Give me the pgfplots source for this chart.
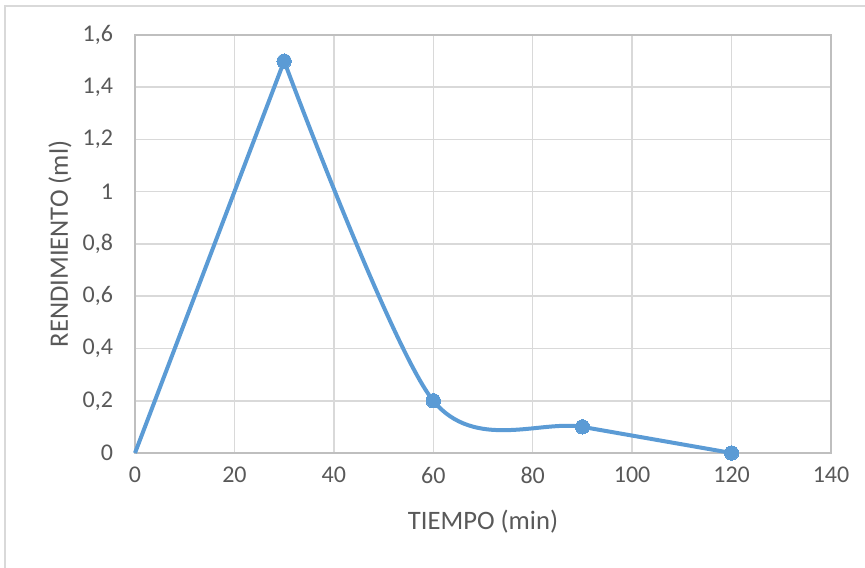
\documentclass[border=0pt]{standalone}
\usepackage{fontspec}
\setmainfont{Carlito}
\usepackage{pgfplots}
\pgfplotsset{compat=1.18}
\definecolor{txtgray}{HTML}{595959}
\definecolor{gridgray}{HTML}{D9D9D9}
\definecolor{axisgray}{HTML}{BFBFBF}
\definecolor{serblue}{HTML}{5B9BD5}
\begin{document}
\begin{tikzpicture}
\path[use as bounding box] (-67.5pt,-57pt) rectangle (365pt,226.5pt);
\draw[color=gridgray, line width=0.6pt] (-65pt,-60pt) -- (-65pt,223.5pt) -- (370pt,223.5pt);
\begin{axis}[
  at={(0,0)}, anchor=south west,
  scale only axis,
  width=348pt, height=209pt,
  xmin=0, xmax=140, ymin=0, ymax=1.6,
  xtick={0,20,...,140},
  ytick={0,0.2,0.4,0.6,0.8,1,1.2,1.4,1.6},
  yticklabels={0,{0,2},{0,4},{0,6},{0,8},1,{1,2},{1,4},{1,6}},
  xmajorgrids, ymajorgrids,
  grid style={color=gridgray, line width=0.75pt},
  axis line style={color=axisgray, line width=0.75pt},
  major tick length=0pt,
  /pgf/number format/assume math mode=true,
  tick label style={font=\fontsize{12}{14}\selectfont, text=txtgray},
  xticklabel style={yshift=-3.5pt},
  yticklabel style={xshift=-7.5pt},
  xlabel={TIEMPO (min)},
  ylabel={RENDIMIENTO (ml)},
  label style={font=\fontsize{13.3}{15}\selectfont, text=txtgray},
  xlabel style={at={(axis description cs:0.5,-0.165)}, anchor=center},
  ylabel style={at={(axis description cs:-0.1078,0.5)}, anchor=center},
  clip=false,
]
\addplot[serblue, line width=2pt, no marks] coordinates {(0,0) (30,1.5)};
\addplot[serblue, line width=2pt, smooth, mark=*, mark size=3.6pt, mark options={fill=serblue, draw=serblue, line width=0pt}]
  coordinates {(30,1.5) (60,0.2) (90,0.1) (120,0)};
\end{axis}
\end{tikzpicture}
\end{document}
